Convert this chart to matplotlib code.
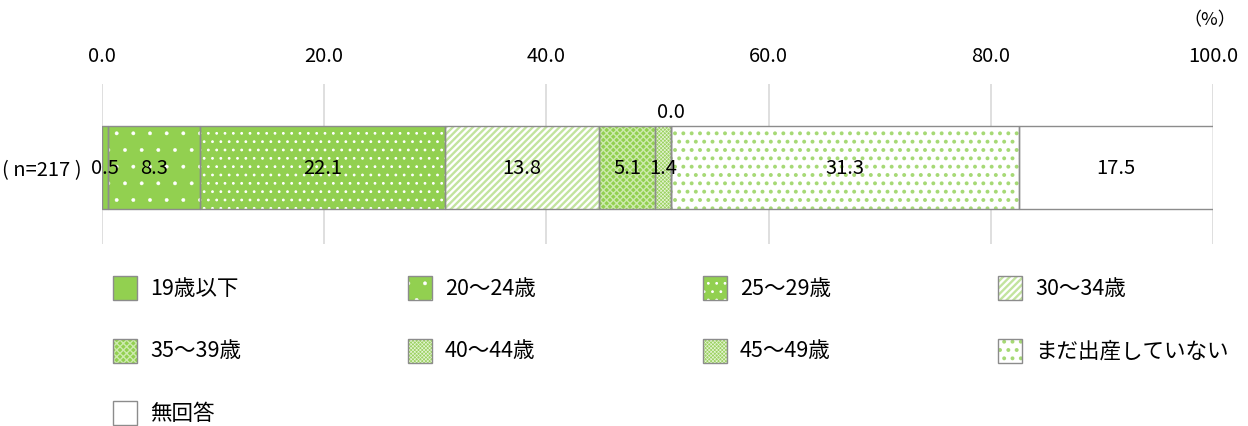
import matplotlib
matplotlib.use("Agg")
import matplotlib.pyplot as plt
from matplotlib.patches import Rectangle

plt.rcParams['font.family'] = ['Noto Sans CJK JP', 'DejaVu Sans']

# data
categories = ["19歳以下", "20～24歳", "25～29歳", "30～34歳", "35～39歳",
              "40～44歳", "45～49歳", "まだ出産していない", "無回答"]
values = [0.5, 8.3, 22.1, 13.8, 5.1, 1.4, 0.0, 31.3, 17.5]
row_label = "( n=217 )"
ticks = [0, 20, 40, 60, 80, 100]

GREEN = "#92D050"
# (facecolor, hatch, hatchcolor, hatch linewidth)
styles = [
    (GREEN, None, None, 1.0),
    (GREEN, ".", "white", 0.3),
    (GREEN, "..", "white", 0.8),
    ("white", "/////", "#C2E49E", 1.7),
    (GREEN, "xxxxx", "#CDEAAE", 1.0),
    ("#9CD262", "xxxxxxxxx", "#E6F4D6", 0.45),
    ("#9CD262", "xxxxxxxxx", "#E6F4D6", 0.45),
    ("white", "..", "#A6D975", 1.6),
    ("white", None, None, 1.0),
]
EDGE = "#8C8C8C"
FS = 14.5
LFS = 15.5

W, H = 1248, 427
fig = plt.figure(figsize=(W / 100, H / 100), dpi=100)
ax = fig.add_axes([102 / W, (H - 245) / H, 1111 / W, 160 / H])
BY, BH = 0.478, 0.519


def styled_patch(p, st):
    if hasattr(p, "set_hatch_linewidth"):
        p.set_hatch_linewidth(st[3])


left = 0.0
for v, st in zip(values, styles):
    face, hatch, hcol, hlw = st
    with plt.rc_context({'hatch.linewidth': hlw}):
        b = ax.barh(BY, v, left=left, height=BH, color=face, hatch=hatch,
                    edgecolor=hcol if hcol else face, linewidth=0, zorder=2)
    for p in b:
        styled_patch(p, st)
    ax.barh(BY, v, left=left, height=BH, fill=False, edgecolor=EDGE,
            linewidth=1.0, zorder=3)
    cx = left + v / 2
    if v == 0:
        ax.text(cx, BY + BH / 2 + 0.025, f"{v:.1f}", ha="center",
                va="bottom", fontsize=FS)
    else:
        ax.text(cx, BY, f"{v:.1f}", ha="center", va="center",
                fontsize=FS, zorder=4)
    left += v

ax.set_xlim(0, 100)
ax.set_ylim(0, 1)
ax.set_xticks(ticks)
ax.set_xticklabels([f"{t:.1f}" for t in ticks], fontsize=FS)
ax.xaxis.tick_top()
ax.tick_params(axis="x", length=0, pad=13)
ax.set_yticks([BY])
ax.set_yticklabels([row_label], fontsize=FS)
ax.tick_params(axis="y", length=0, pad=15)
ax.grid(axis="x", color="#D9D9D9", linewidth=1.2, zorder=0)
ax.set_axisbelow(True)
for s in ax.spines.values():
    s.set_visible(False)

fig.text(1210 / W, 1 - 20 / H, "（%）", ha="center", va="center", fontsize=13)

# legend
col_x = [113, 408, 703, 998]
row_y = [289, 351.5, 414]
sq = 24
for i, (name, st) in enumerate(zip(categories, styles)):
    x = col_x[i % 4]
    y = row_y[i // 4]
    face, hatch, hcol, hlw = st
    xy = (x / W, 1 - (y + sq / 2) / H)
    with plt.rc_context({'hatch.linewidth': hlw}):
        r = Rectangle(xy, sq / W, sq / H, transform=fig.transFigure,
                      facecolor=face, hatch=hatch,
                      edgecolor=hcol if hcol else face, linewidth=0)
    styled_patch(r, st)
    fig.add_artist(r)
    fig.add_artist(Rectangle(xy, sq / W, sq / H, transform=fig.transFigure,
                             fill=False, edgecolor=EDGE, linewidth=1.0))
    fig.text((x + 37) / W, 1 - y / H, name, ha="left", va="center",
             fontsize=LFS)

fig.savefig("out.png", dpi=100)
